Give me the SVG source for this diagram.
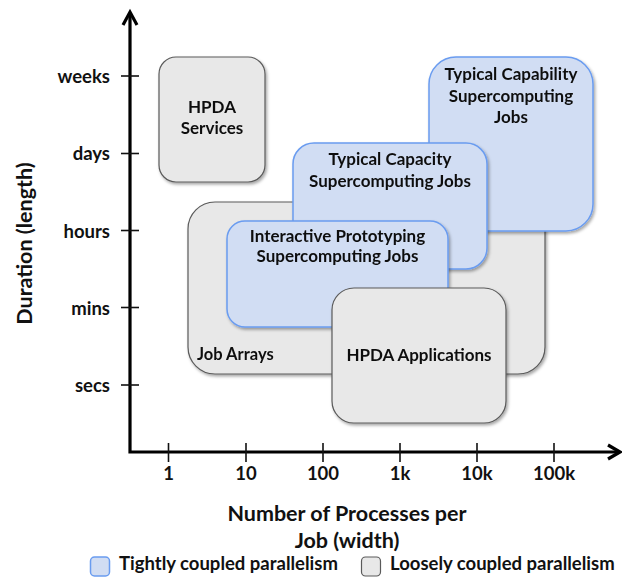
<svg xmlns="http://www.w3.org/2000/svg" width="622" height="578" viewBox="0 0 622 578">
<style>
text{font-family:Lato,"Liberation Sans",sans-serif;font-weight:700;fill:#111}
.gray{fill:#e8e8e8;stroke:#5a5a5a;stroke-width:1.2}
.blue{fill:#d1ddf3;stroke:#6a9cf0;stroke-width:1.5}
.lbl{font-size:17px;text-anchor:middle}
.tick{font-size:18.5px}
.axis{fill:none;stroke:#000;stroke-width:3.2}
.tk{stroke:#111;stroke-width:1.6}
.title{font-size:21.5px;text-anchor:middle}
.leg{font-size:18.5px}
</style>
<defs>
<filter id="sh" x="-10%" y="-10%" width="130%" height="130%">
<feDropShadow dx="1.5" dy="2" stdDeviation="1.5" flood-color="#000" flood-opacity="0.35"/>
</filter>
</defs>

<g id="hpda-services" filter="url(#sh)">
<rect class="gray" x="159" y="57" width="106" height="125" rx="17"/>
<text class="lbl" x="212" y="113">HPDA</text>
<text class="lbl" x="212" y="134">Services</text>
</g>

<g id="job-arrays" filter="url(#sh)">
<rect class="gray" x="188" y="202" width="357" height="172" rx="27"/>
<text x="197" y="360" style="font-size:16.5px">Job Arrays</text>
</g>

<g id="capability" filter="url(#sh)">
<rect class="blue" x="429" y="57" width="164" height="174" rx="27"/>
<text class="lbl" x="511" y="80">Typical Capability</text>
<text class="lbl" x="511" y="102">Supercomputing</text>
<text class="lbl" x="511" y="123">Jobs</text>
</g>

<g id="capacity" filter="url(#sh)">
<rect class="blue" x="293" y="143" width="194" height="126" rx="21"/>
<text class="lbl" x="390" y="165">Typical Capacity</text>
<text class="lbl" x="390" y="187">Supercomputing Jobs</text>
</g>

<g id="interactive" filter="url(#sh)">
<rect class="blue" x="227" y="221" width="221" height="106" rx="18"/>
<text class="lbl" x="337.5" y="242">Interactive Prototyping</text>
<text class="lbl" x="337.5" y="262">Supercomputing Jobs</text>
</g>

<g id="hpda-applications" filter="url(#sh)">
<rect class="gray" x="332" y="288" width="174" height="135" rx="22"/>
<text class="lbl" x="419" y="361">HPDA Applications</text>
</g>

<g id="axes">
<polyline class="axis" points="130,14 130,452 620,452"/>
<polyline class="axis" points="123,25 130,12 137,25"/>
<polyline class="axis" points="608,445 620,452 608,459"/>
<g class="tk">
<line x1="121" y1="76" x2="139" y2="76"/>
<line x1="121" y1="153.5" x2="139" y2="153.5"/>
<line x1="121" y1="230.5" x2="139" y2="230.5"/>
<line x1="121" y1="307.5" x2="139" y2="307.5"/>
<line x1="121" y1="385" x2="139" y2="385"/>
<line x1="168.5" y1="443" x2="168.5" y2="462"/>
<line x1="246" y1="443" x2="246" y2="462"/>
<line x1="323" y1="443" x2="323" y2="462"/>
<line x1="400" y1="443" x2="400" y2="462"/>
<line x1="477" y1="443" x2="477" y2="462"/>
<line x1="554" y1="443" x2="554" y2="462"/>
</g>
</g>

<g id="y-labels" class="tick" text-anchor="end">
<text x="110" y="83">weeks</text>
<text x="110" y="160">days</text>
<text x="110" y="238">hours</text>
<text x="110" y="315">mins</text>
<text x="110" y="392">secs</text>
</g>
<g id="x-labels" class="tick" text-anchor="middle">
<text x="168.5" y="480">1</text>
<text x="246" y="480">10</text>
<text x="323" y="480">100</text>
<text x="400" y="480">1k</text>
<text x="477" y="480">10k</text>
<text x="554" y="480">100k</text>
</g>

<text class="title" transform="translate(32,243.5) rotate(-90)">Duration (length)</text>
<text class="title" x="347" y="521">Number of Processes per</text>
<text class="title" x="347" y="548">Job (width)</text>

<g id="legend">
<rect class="blue" x="90.5" y="557" width="19" height="19" rx="4"/>
<text class="leg" x="119" y="570">Tightly coupled parallelism</text>
<rect class="gray" x="361.5" y="557" width="19" height="19" rx="4"/>
<text class="leg" x="390" y="570">Loosely coupled parallelism</text>
</g>
</svg>
